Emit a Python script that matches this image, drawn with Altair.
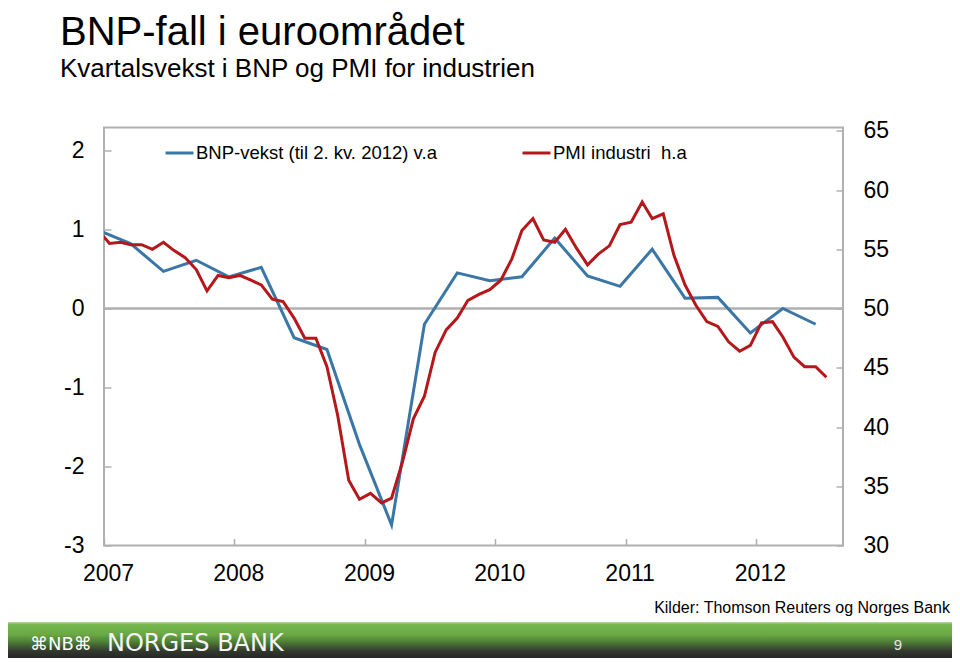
import altair as alt
import pandas as pd

# ---------------- data ----------------
TITLE = "BNP-fall i euroområdet"
SUBTITLE = "Kvartalsvekst i BNP og PMI for industrien"
SOURCE = "Kilder: Thomson Reuters og Norges Bank"
GDP_LABEL = "BNP-vekst (til 2. kv. 2012) v.a"
PMI_LABEL = "PMI industri\u00a0 h.a"
BANK_NAME = "NORGES BANK"
BANK_LOGO = "\u2318NB\u2318"
PAGE_NO = "9"

YEARS = [2007, 2008, 2009, 2010, 2011, 2012]
LEFT_TICKS = [-3, -2, -1, 0, 1, 2]
RIGHT_TICKS = [30, 35, 40, 45, 50, 55, 60, 65]

# Quarterly GDP growth, euro area, Q4 2006 - Q2 2012 (per cent)
gdp_growth = [0.99, 0.82, 0.47, 0.61, 0.40, 0.52, -0.37, -0.52, -1.72, -2.74,
              -0.20, 0.45, 0.35, 0.40, 0.89, 0.41, 0.28, 0.75, 0.13, 0.14,
              -0.31, 0.00, -0.20]

# Manufacturing PMI, euro area, Dec 2006 - Jul 2012
pmi_industry = [56.6,
                55.5, 55.6, 55.4, 55.4, 55.0, 55.6, 54.9, 54.3, 53.3, 51.5, 52.8, 52.6,
                52.8, 52.4, 52.0, 50.8, 50.6, 49.2, 47.5, 47.5, 45.1, 41.0, 35.5, 33.9,
                34.4, 33.6, 34.0, 37.1, 40.7, 42.6, 46.3, 48.2, 49.2, 50.7, 51.2, 51.6,
                52.4, 54.2, 56.6, 57.6, 55.8, 55.6, 56.7, 55.1, 53.7, 54.6, 55.3, 57.1,
                57.3, 59.0, 57.6, 58.0, 54.5, 52.0, 50.3, 48.9, 48.5, 47.2, 46.4, 46.9,
                48.8, 48.9, 47.6, 45.9, 45.1, 45.1, 44.2]

# dates: mid-month; quarters plotted at the last month of each quarter
quarter_dates = pd.date_range("2006-12-01", periods=len(gdp_growth), freq="3MS") + pd.Timedelta(days=15, hours=12)
month_dates = pd.date_range("2006-12-01", periods=len(pmi_industry), freq="MS") + pd.Timedelta(days=15, hours=12)

gdp_df = pd.DataFrame({"date": quarter_dates, "value": gdp_growth, "series": GDP_LABEL})
pmi_df = pd.DataFrame({"date": month_dates, "value": pmi_industry, "series": PMI_LABEL})

# ---------------- style ----------------
FONT = "Liberation Sans"
BLUE = "#3a77a6"
RED = "#b5171b"
GRID = "#b0b0b0"

x_scale = alt.Scale(domain=[alt.DateTime(year=2007, month=1, date=1),
                            alt.DateTime(year=2012, month=9, date=1)])
left_scale = alt.Scale(domain=[-3, 2.29], nice=False, zero=False)
right_scale = alt.Scale(domain=[30, 65.29], nice=False, zero=False)
year_values = [alt.DateTime(year=y, month=1, date=1) for y in YEARS]

color = alt.Color(
    "series:N",
    scale=alt.Scale(domain=[GDP_LABEL, PMI_LABEL], range=[BLUE, RED]),
    legend=alt.Legend(title=None, orient="none", legendX=60, legendY=10,
                      direction="horizontal", columns=2, symbolType="stroke",
                      symbolStrokeWidth=3, symbolSize=784, labelFontSize=18.5,
                      labelFont=FONT, labelColor="black", columnPadding=79,
                      labelOffset=1, labelLimit=0),
)

tick_style = dict(labels=False, domain=False, ticks=True, tickSize=7,
                  tickColor=GRID, tickWidth=1.5, grid=False, title=None)
label_style = dict(ticks=False, tickSize=0, domain=False, grid=False, title=None,
                   labelFontSize=23, labelFont=FONT, labelColor="black")

zero_line = alt.Chart(pd.DataFrame({"v": [0]})).mark_rule(color=GRID, strokeWidth=2).encode(
    y=alt.Y("v:Q", scale=left_scale,
            axis=alt.Axis(orient="left", offset=-7, values=LEFT_TICKS, **tick_style))
)

right_ticks = alt.Chart(pd.DataFrame({"v": [50]})).mark_rule(color=GRID, strokeWidth=2).encode(
    y=alt.Y("v:Q", scale=right_scale,
            axis=alt.Axis(orient="right", offset=-7, values=RIGHT_TICKS, **tick_style))
)

gdp_line = alt.Chart(gdp_df).mark_line(clip=True, strokeWidth=3).encode(
    x=alt.X("date:T", scale=x_scale,
            axis=alt.Axis(orient="bottom", values=year_values, format="%Y",
                          labelFlush=False, labelOverlap=False, labelPadding=17,
                          labelOffset=4, **label_style)),
    y=alt.Y("value:Q", scale=left_scale,
            axis=alt.Axis(orient="left", values=LEFT_TICKS, labelExpr="'' + datum.value",
                          labelPadding=20, **label_style)),
    color=color,
)

pmi_line = alt.Chart(pmi_df).mark_line(clip=True, strokeWidth=3).encode(
    x=alt.X("date:T", scale=x_scale,
            axis=alt.Axis(orient="bottom", offset=-7, values=year_values, **tick_style)),
    y=alt.Y("value:Q", scale=right_scale,
            axis=alt.Axis(orient="right", values=RIGHT_TICKS, labelPadding=20, **label_style)),
    color=color,
)


def text_layer(txt, x, y, size, align="left", color="black", font=FONT):
    return alt.Chart(pd.DataFrame({"t": [txt]})).mark_text(
        align=align, baseline="alphabetic", fontSize=size, font=font, color=color
    ).encode(text="t:N", x=alt.value(x), y=alt.value(y))


footer = alt.Chart(pd.DataFrame({"a": [0]})).mark_rect(
    fill=alt.LinearGradient(
        gradient="linear", x1=0, x2=0, y1=0, y2=1,
        stops=[alt.GradientStop(offset=0, color="#c0dba4"),
               alt.GradientStop(offset=0.06, color="#78b84f"),
               alt.GradientStop(offset=0.35, color="#6aa845"),
               alt.GradientStop(offset=0.55, color="#4e7f36"),
               alt.GradientStop(offset=0.8, color="#333a2e"),
               alt.GradientStop(offset=1, color="#262626")]),
    strokeWidth=0,
).encode(x=alt.value(-96), x2=alt.value(848), y=alt.value(494.5), y2=alt.value(530.5))

chart = alt.layer(
    zero_line,
    right_ticks,
    gdp_line,
    pmi_line,
    footer,
    text_layer(TITLE, -44, -83, 40),
    text_layer(SUBTITLE, -44, -51, 26),
    text_layer(SOURCE, 846, 485.5, 16, align="right"),
    text_layer(BANK_LOGO, -74, 522.5, 18, color="white", font="DejaVu Sans"),
    text_layer(BANK_NAME, 3, 523.5, 24, color="#f4f4f4", font="DejaVu Sans"),
    text_layer(PAGE_NO, 794, 522.5, 15, align="center", color="#e6e6e6"),
).resolve_scale(
    y="independent"
).resolve_axis(
    x="independent", y="independent"
).properties(
    width=739,
    height=418,
    autosize=alt.AutoSizeParams(type="none"),
    padding={"left": 96, "top": 119.5, "right": 109, "bottom": 112.5},
).configure_view(
    stroke=GRID, strokeWidth=2
).configure_axis(
    grid=False
)

chart.save("out.html", embed_options={"renderer": "svg", "actions": False})
